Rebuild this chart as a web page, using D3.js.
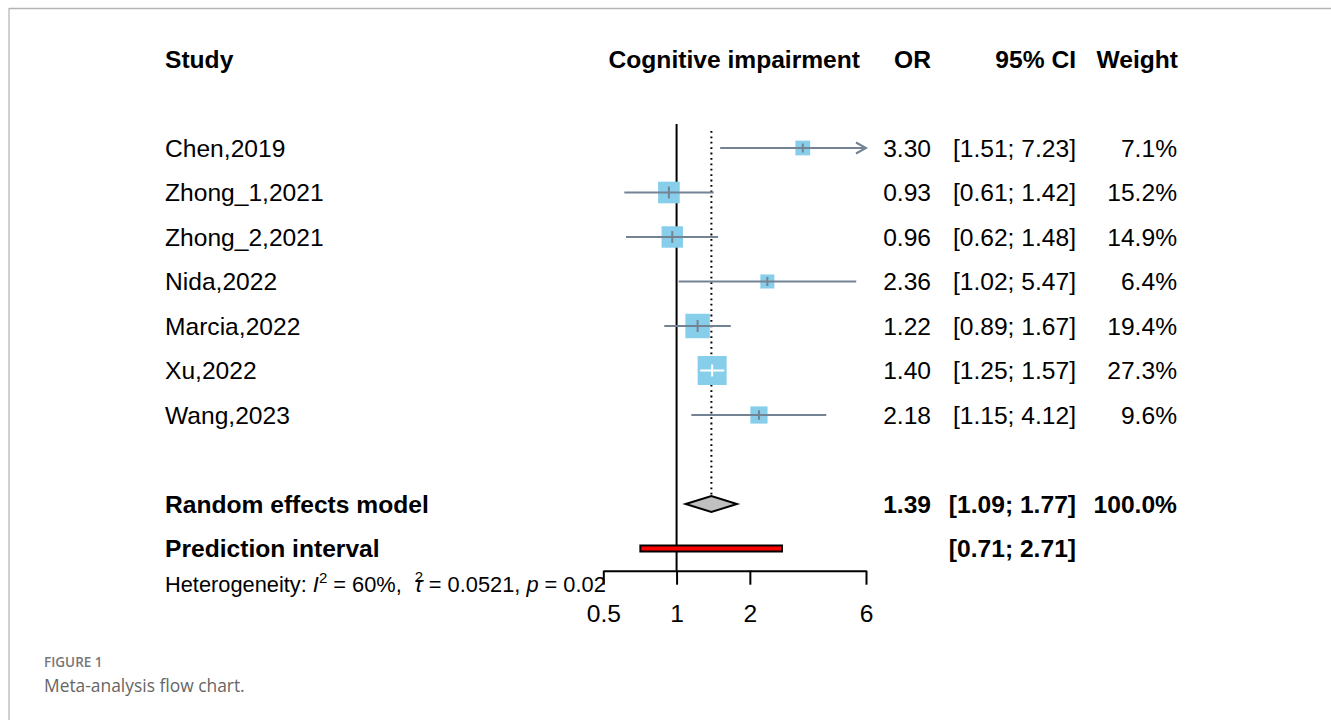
<!DOCTYPE html>
<html>
<head>
<meta charset="utf-8">
<script src="https://cdn.jsdelivr.net/npm/d3@7"></script>
<style>
  html, body { margin: 0; padding: 0; background: #fff; }
  svg { display: block; }
</style>
</head>
<body>
<svg id="chart" width="1331" height="720"></svg>
<script>
// ---- data ----
const studies = ["Chen,2019", "Zhong_1,2021", "Zhong_2,2021", "Nida,2022", "Marcia,2022", "Xu,2022", "Wang,2023"];
const orValues = [3.30, 0.93, 0.96, 2.36, 1.22, 1.40, 2.18];
const lowerCI = [1.51, 0.61, 0.62, 1.02, 0.89, 1.25, 1.15];
const upperCI = [7.23, 1.42, 1.48, 5.47, 1.67, 1.57, 4.12];
const weights = [7.1, 15.2, 14.9, 6.4, 19.4, 27.3, 9.6];
const pooled = { label: "Random effects model", or: 1.39, lower: 1.09, upper: 1.77, weight: 100.0 };
const prediction = { label: "Prediction interval", lower: 0.71, upper: 2.71 };
const headers = ["Study", "Cognitive impairment", "OR", "95% CI", "Weight"];
const tickValues = [0.5, 1, 2, 6];
const tickLabels = ["0.5", "1", "2", "6"];
const hetI2 = "60%", hetTau2 = "0.0521", hetP = "0.02";
const figureLabel = "FIGURE 1";
const caption = "Meta-analysis flow chart.";

// ---- setup ----
const svg = d3.select("#chart");
const FONT = "'Liberation Sans', Arial, Helvetica, sans-serif";
const FS = 24.6;
const fmt2 = d3.format(".2f");
const fmtW = d3.format(".1f");

const x = d3.scaleLog().domain([0.5, 6]).range([603.3, 866]);
const y = d3.scaleLinear().domain([0, 9]).range([148, 548.5]);
const boxSize = d3.scaleSqrt().domain([0, 27.3]).range([0, 29]);
const axisY = 570.7;
const lineCol = "#738394";
const boxCol = "#87CEEB";

// frame (page border)
svg.append("line").attr("x1", 9).attr("x2", 1331).attr("y1", 8.5).attr("y2", 8.5)
  .attr("stroke", "#b3b3b3").attr("stroke-width", 1.5);
svg.append("line").attr("x1", 9).attr("x2", 9).attr("y1", 8).attr("y2", 720)
  .attr("stroke", "#b3b3b3").attr("stroke-width", 1.2);

const g = svg.append("g");

function txt(xx, yy, t, anchor, bold) {
  return g.append("text").attr("x", xx).attr("y", yy).text(t)
    .attr("text-anchor", anchor || "start")
    .attr("font-family", FONT).attr("font-size", FS)
    .attr("font-weight", bold ? "bold" : "normal");
}

// headers
const headerY = y(-2) + 8.5;
txt(165, headerY, headers[0], "start", true);
txt(860, headerY, headers[1], "end", true);
txt(931, headerY, headers[2], "end", true);
txt(1076, headerY, headers[3], "end", true);
txt(1178, headerY, headers[4], "end", true);

// reference line at 1
g.append("line").attr("x1", x(1)).attr("x2", x(1)).attr("y1", 124).attr("y2", axisY)
  .attr("stroke", "#000").attr("stroke-width", 2);
// dotted pooled line
g.append("line").attr("x1", x(pooled.or)).attr("x2", x(pooled.or)).attr("y1", 131).attr("y2", y(8) - 8)
  .attr("stroke", "#000").attr("stroke-width", 2).attr("stroke-dasharray", "1.8,3.6");

// study rows
studies.forEach((s, i) => {
  const cy = y(i);
  const lo = lowerCI[i], hi = upperCI[i], est = orValues[i];
  const bs = boxSize(weights[i]);
  const xl = x(Math.max(lo, 0.5)), xh = x(Math.min(hi, 6));
  const inside = xl >= x(est) - bs / 2 && xh <= x(est) + bs / 2;

  if (!inside && hi > 6) {
    g.append("path")
      .attr("d", `M${xh - 10},${cy - 5.5}L${xh},${cy}L${xh - 10},${cy + 5.5}`)
      .attr("fill", "none").attr("stroke", lineCol).attr("stroke-width", 2);
  }
  // box
  g.append("rect").attr("x", x(est) - bs / 2).attr("y", cy - bs / 2)
    .attr("width", bs).attr("height", bs).attr("fill", boxCol);
  const col = inside ? "#fff" : lineCol;
  const th = Math.min(Math.max(bs * 0.55, 9), 12) / 2;
  g.append("line").attr("x1", xl).attr("x2", xh).attr("y1", cy).attr("y2", cy)
    .attr("stroke", col).attr("stroke-width", 2);
  g.append("line").attr("x1", x(est)).attr("x2", x(est)).attr("y1", cy - th).attr("y2", cy + th)
    .attr("stroke", col).attr("stroke-width", 2);

  // text columns
  const ty = cy + 8.5;
  txt(165, ty, s);
  txt(931, ty, fmt2(est), "end");
  txt(1076, ty, `[${fmt2(lo)}; ${fmt2(hi)}]`, "end");
  txt(1177, ty, fmtW(weights[i]) + "%", "end");
});

// pooled diamond
const py = y(8);
g.append("path")
  .attr("d", `M${x(pooled.lower)},${py}L${x(pooled.or)},${py - 8}L${x(pooled.upper)},${py}L${x(pooled.or)},${py + 8}Z`)
  .attr("fill", "#c0c0c0").attr("stroke", "#000").attr("stroke-width", 2);
txt(165, py + 8.5, pooled.label, "start", true);
txt(931, py + 8.5, fmt2(pooled.or), "end", true);
txt(1076, py + 8.5, `[${fmt2(pooled.lower)}; ${fmt2(pooled.upper)}]`, "end", true);
txt(1177, py + 8.5, fmtW(pooled.weight) + "%", "end", true);

// prediction interval
const piy = y(9);
g.append("rect").attr("x", x(prediction.lower)).attr("y", piy - 3)
  .attr("width", x(prediction.upper) - x(prediction.lower)).attr("height", 6)
  .attr("fill", "#ff0000").attr("stroke", "#000").attr("stroke-width", 2);
txt(165, piy + 8.5, prediction.label, "start", true);
txt(1076, piy + 8.5, `[${fmt2(prediction.lower)}; ${fmt2(prediction.upper)}]`, "end", true);

// x axis
const axis = d3.axisBottom(x).tickValues(tickValues)
  .tickFormat((d, i) => tickLabels[i]).tickSize(14).tickSizeOuter(0);
const ax = g.append("g").attr("transform", `translate(0,${axisY})`).call(axis);
ax.select(".domain").attr("stroke", "#000").attr("stroke-width", 2);
ax.selectAll(".tick line").attr("stroke", "#000").attr("stroke-width", 2);
ax.selectAll(".tick text").attr("y", 51.3).attr("dy", 0)
  .attr("font-family", FONT).attr("font-size", FS).attr("fill", "#000");

// heterogeneity
const het = g.append("text").attr("x", 165).attr("y", 592)
  .attr("font-family", FONT).attr("font-size", 21.8);
het.append("tspan").text("Heterogeneity: ");
het.append("tspan").attr("font-style", "italic").text("I");
het.append("tspan").attr("font-size", 15).attr("dy", -9).text("2");
het.append("tspan").attr("dy", 9).text(` = ${hetI2},`);
het.append("tspan").attr("font-size", 15).attr("dy", -10).attr("dx", 13).text("2");
het.append("tspan").attr("dy", 10).attr("dx", -8.5).attr("font-style", "italic").text("τ");
het.append("tspan").text(` = ${hetTau2}, `);
het.append("tspan").attr("font-style", "italic").text("p");
het.append("tspan").text(` = ${hetP}`);

// caption
svg.append("text").attr("x", 44).attr("y", 667).text(figureLabel)
  .attr("font-family", "'Open Sans', Lato, sans-serif").attr("font-size", 13.5).attr("font-weight", 600)
  .attr("fill", "#777");
svg.append("text").attr("x", 44).attr("y", 692).text(caption)
  .attr("font-family", "'Open Sans', Lato, sans-serif").attr("font-size", 17.4)
  .attr("fill", "#666");
</script>
</body>
</html>
